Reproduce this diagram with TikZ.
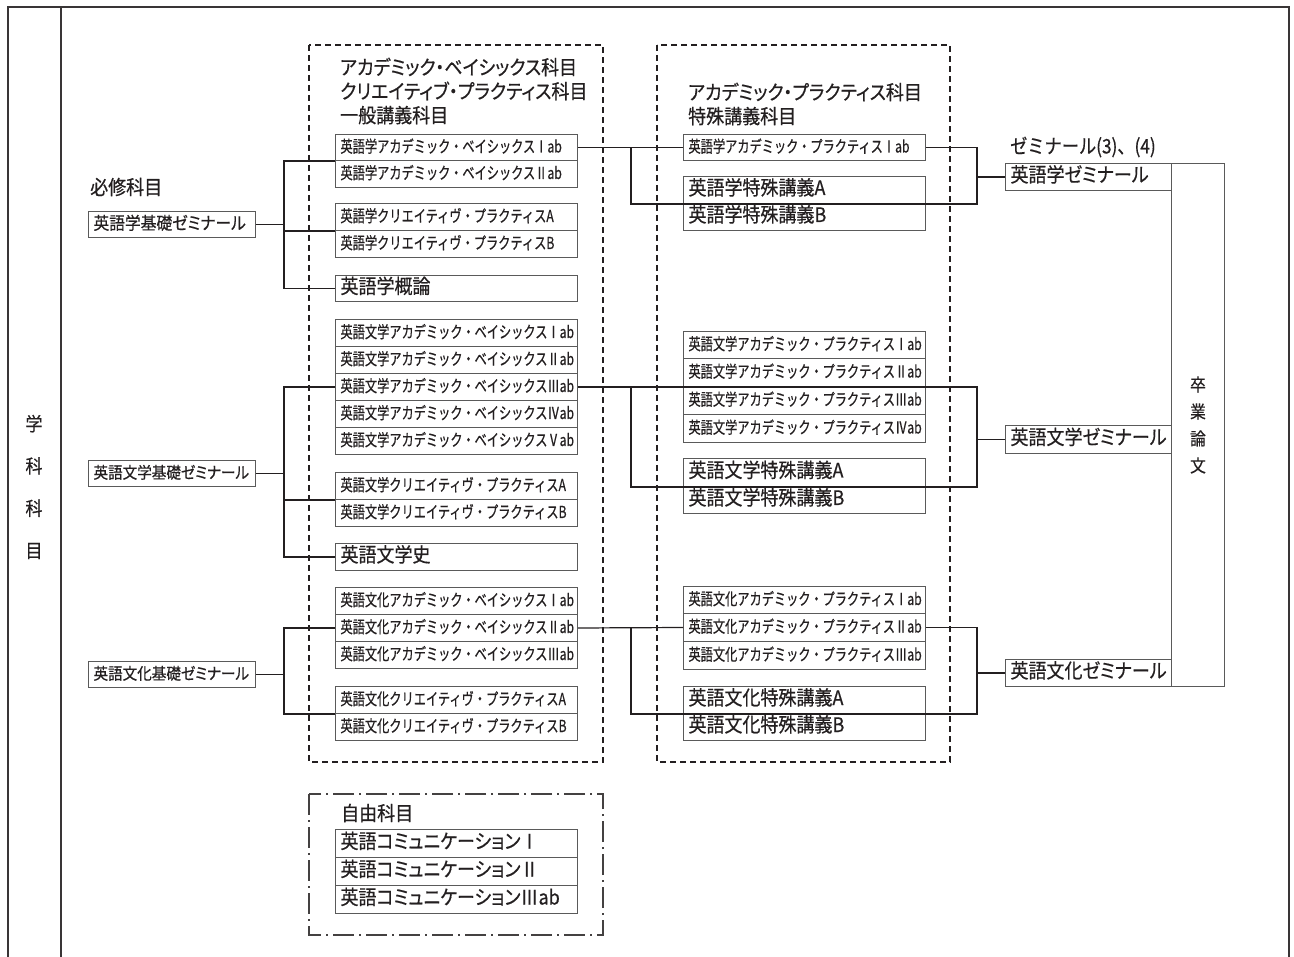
\documentclass[tikz,border=0pt]{standalone}
\usepackage{fontspec}
\setmainfont{Noto Sans CJK JP}
\newfontfamily\jpL[FakeStretch=0.9,FakeBold=0.5,RawFeature=+palt]{Noto Sans CJK JP}
\newfontfamily\jpN[FakeStretch=0.86,FakeBold=0.5]{Noto Sans CJK JP}
\newfontfamily\jpS[FakeStretch=0.74,FakeBold=0.5]{Noto Sans CJK JP}
\definecolor{ink}{HTML}{231F20}
\definecolor{boxc}{HTML}{5A5A5A}
\tikzset{
  lg/.style={font=\jpL\fontsize{20}{24}\selectfont},
  md/.style={font=\jpL\fontsize{17.5}{20}\selectfont},
  mdn/.style={font=\jpL\fontsize{16.2}{20}\selectfont},
  sm/.style={font=\jpS\fontsize{16.5}{18}\selectfont},
  bx/.style={draw=boxc, line width=1pt, text=ink, anchor=north west,
    inner xsep=5pt, inner ysep=0pt, align=left, text height=13pt, text depth=3pt},
  wA/.style={bx, text width=232pt},
  wL/.style={bx, text width=157pt},
  wZ/.style={bx, text width=156pt},
  lbl/.style={text=ink, inner sep=0pt},
  conn/.style={draw=ink, line width=1.2pt},
  frame/.style={draw=ink!90, line width=1.5pt},
  dbox/.style={draw=ink, line width=2pt, dash pattern=on 6pt off 4pt},
  ddbox/.style={draw=ink!85, line width=1.3pt, dash pattern=on 21pt off 5pt on 2pt off 5pt},
}
\begin{document}
\begin{tikzpicture}[x=1pt,y=-1pt]
\useasboundingbox (0,0) rectangle (1294,957);
% outer frame
\draw[frame] (8,957) -- (8,7) -- (1289,7) -- (1289,957);
\draw[frame] (61,7) -- (61,957);
\node[lbl, align=center, font=\jpL\fontsize{19}{42.3}\selectfont] (side) at (34,487) {学\\科\\科\\目};

% dashed containers
\draw[dbox] (309,45) rectangle (603,762);
\draw[dbox] (657,45) rectangle (950,762);
\draw[ddbox] (309,794) rectangle (603,935);

% titles
\node[lbl, lg, align=left, anchor=west] (t1) at (340,91) {アカデミック・ベイシックス科目\\クリエイティブ・プラクティス科目\\一般講義科目};
\node[lbl, lg, align=left, anchor=west] (t2) at (688,104) {アカデミック・プラクティス科目\\特殊講義科目};
\node[lbl, lg, anchor=west] (t3) at (90,187) {必修科目};
\node[lbl, anchor=west, font=\jpN\fontsize{20}{24}\selectfont] (t4) at (1010,147) {ゼミナール(3)、(4)};
\node[lbl, lg, anchor=west] (t5) at (341,813) {自由科目};

% left boxes
\node[wL, md, minimum height=26pt] (L1) at (88,211) {英語学基礎ゼミナール};
\node[wL, mdn, minimum height=26pt] (L2) at (88,460) {英語文学基礎ゼミナール};
\node[wL, mdn, minimum height=26pt] (L3) at (88,661) {英語文化基礎ゼミナール};

% column 1
\node[wA, sm, minimum height=26pt] (e1) at (335,134) {英語学アカデミック・ベイシックスⅠab};
\node[wA, sm, minimum height=27pt] (e2) at (335,160) {英語学アカデミック・ベイシックスⅡab};
\node[wA, sm, minimum height=27pt] (e3) at (335,203) {英語学クリエイティヴ・プラクティスA};
\node[wA, sm, minimum height=27pt] (e4) at (335,230) {英語学クリエイティヴ・プラクティスB};
\node[wA, lg, minimum height=26pt] (e5) at (335,275) {英語学概論};

\node[wA, sm, minimum height=27pt] (l1) at (335,319) {英語文学アカデミック・ベイシックスⅠab};
\node[wA, sm, minimum height=27pt] (l2) at (335,346) {英語文学アカデミック・ベイシックスⅡab};
\node[wA, sm, minimum height=27pt] (l3) at (335,373) {英語文学アカデミック・ベイシックスⅢab};
\node[wA, sm, minimum height=27pt] (l4) at (335,400) {英語文学アカデミック・ベイシックスⅣab};
\node[wA, sm, minimum height=27pt] (l5) at (335,427) {英語文学アカデミック・ベイシックスⅤab};
\node[wA, sm, minimum height=27pt] (l6) at (335,472) {英語文学クリエイティヴ・プラクティスA};
\node[wA, sm, minimum height=27pt] (l7) at (335,499) {英語文学クリエイティヴ・プラクティスB};
\node[wA, lg, minimum height=27pt] (l8) at (335,543) {英語文学史};

\node[wA, sm, minimum height=27pt] (c1) at (335,587) {英語文化アカデミック・ベイシックスⅠab};
\node[wA, sm, minimum height=27pt] (c2) at (335,614) {英語文化アカデミック・ベイシックスⅡab};
\node[wA, sm, minimum height=27pt] (c3) at (335,641) {英語文化アカデミック・ベイシックスⅢab};
\node[wA, sm, minimum height=27pt] (c4) at (335,686) {英語文化クリエイティヴ・プラクティスA};
\node[wA, sm, minimum height=27pt] (c5) at (335,713) {英語文化クリエイティヴ・プラクティスB};

% column 2
\node[wA, sm, minimum height=26pt] (p1) at (683,134) {英語学アカデミック・プラクティスⅠab};
\node[wA, lg, minimum height=27pt] (p2) at (683,176) {英語学特殊講義A};
\node[wA, lg, minimum height=27pt] (p3) at (683,203) {英語学特殊講義B};

\node[wA, sm, minimum height=27pt] (q1) at (683,331) {英語文学アカデミック・プラクティスⅠab};
\node[wA, sm, minimum height=28pt] (q2) at (683,358) {英語文学アカデミック・プラクティスⅡab};
\node[wA, sm, minimum height=28pt] (q3) at (683,386) {英語文学アカデミック・プラクティスⅢab};
\node[wA, sm, minimum height=28pt] (q4) at (683,414) {英語文学アカデミック・プラクティスⅣab};
\node[wA, lg, minimum height=28pt] (q5) at (683,458) {英語文学特殊講義A};
\node[wA, lg, minimum height=27pt] (q6) at (683,486) {英語文学特殊講義B};

\node[wA, sm, minimum height=27pt] (r1) at (683,586) {英語文化アカデミック・プラクティスⅠab};
\node[wA, sm, minimum height=28pt] (r2) at (683,613) {英語文化アカデミック・プラクティスⅡab};
\node[wA, sm, minimum height=28pt] (r3) at (683,641) {英語文化アカデミック・プラクティスⅢab};
\node[wA, lg, minimum height=27pt] (r4) at (683,686) {英語文化特殊講義A};
\node[wA, lg, minimum height=27pt] (r5) at (683,713) {英語文化特殊講義B};

% seminars and thesis
\node[wZ, lg, minimum height=27pt] (Z1) at (1005,163) {英語学ゼミナール};
\node[wZ, lg, minimum height=28pt] (Z2) at (1005,425) {英語文学ゼミナール};
\node[wZ, lg, minimum height=27pt] (Z3) at (1005,659) {英語文化ゼミナール};
\node[draw=boxc, line width=1pt, anchor=north west, minimum width=53pt, minimum height=523pt, inner sep=0pt] (T) at (1171,163) {};
\node[lbl, align=center, font=\jpL\fontsize{17.5}{27}\selectfont] (Tt) at (T.center) {卒\\業\\論\\文};

% free subjects
\node[wA, lg, minimum height=28pt] (f1) at (335,829) {英語コミュニケーションⅠ};
\node[wA, lg, minimum height=28pt] (f2) at (335,857) {英語コミュニケーションⅡ};
\node[wA, lg, minimum height=28pt] (f3) at (335,885) {英語コミュニケーションⅢab};

% guide coordinates
\coordinate (gx1) at (631,0);
\coordinate (gx2) at (977,0);

% left connectors
\draw[conn] (L1.east) -- ++(28,0) coordinate (jA);
\draw[conn] (e1.south west) -| (jA) |- (e5.west);
\draw[conn] (e3.south west) -- (e3.south west -| jA);
\draw[conn] (L2.east) -- ++(28,0) coordinate (jB);
\draw[conn] (l3.west) -| (jB) |- (l8.west);
\draw[conn] (l6.south west) -- (l6.south west -| jB);
\draw[conn] (L3.east) -- ++(28,0) coordinate (jC);
\draw[conn] (c2.west) -| (jC) |- (c4.south west);

% middle connectors
\draw[conn] (e1.east) -- (p1.west);
\draw[conn] (p1.east) -| (gx2 |- p2.south) -- (p2.south -| gx1) |- (p1.west);
\draw[conn] (gx2 |- Z1.west) -- (Z1.west);

\draw[conn] (l3.east) -- (l3.east -| gx2) -- (q5.south -| gx2) -- (q5.south -| gx1) -- (l3.east -| gx1);
\draw[conn] (gx2 |- Z2.west) -- (Z2.west);

\draw[conn] (c2.east) -- (r2.west);
\draw[conn] (r2.east) -| (gx2 |- r4.south) -- (r4.south -| gx1) |- (r2.west);
\draw[conn] (gx2 |- Z3.west) -- (Z3.west);
\end{tikzpicture}
\end{document}
